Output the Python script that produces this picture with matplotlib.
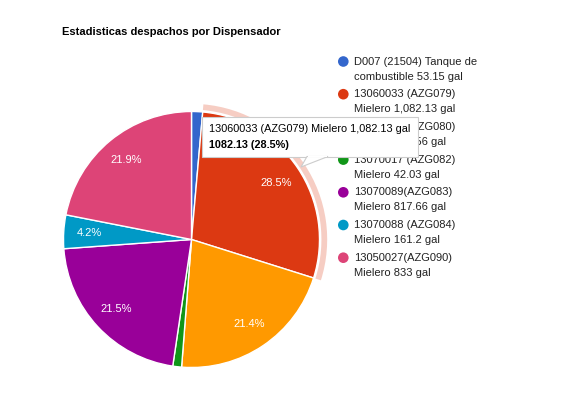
import matplotlib
matplotlib.use("Agg")
import matplotlib.pyplot as plt
from matplotlib.patches import Wedge, Circle, Polygon, Rectangle

plt.rcParams['font.family'] = ['Liberation Sans', 'DejaVu Sans']

title = "Estadisticas despachos por Dispensador"
labels_line1 = ["D007 (21504) Tanque de", "13060033 (AZG079)", "13060034 (AZG080)",
                "13070017 (AZG082)", "13070089(AZG083)", "13070088 (AZG084)", "13050027(AZG090)"]
labels_line2 = ["combustible 53.15 gal", "Mielero 1,082.13 gal", "Mielero 812.56 gal",
                "Mielero 42.03 gal", "Mielero 817.66 gal", "Mielero 161.2 gal", "Mielero 833 gal"]
values = [53.15, 1082.13, 812.56, 42.03, 817.66, 161.2, 833]
colors = ["#3366cc", "#dc3912", "#ff9900", "#109618", "#990099", "#0099c6", "#dd4477"]
highlight = 1
tooltip_line1 = "13060033 (AZG079) Mielero 1,082.13 gal"
tooltip_line2 = "1082.13 (28.5%)"

W, H = 568, 394
fig = plt.figure(figsize=(W / 100, H / 100), dpi=100)
fig.patch.set_facecolor("white")

# pie axes in pixel coordinates
cx, cy, r = 191.5, 239.5, 128.0
ext = 1.2
ax = fig.add_axes([(cx - ext * r) / W, 1 - (cy + ext * r) / H, 2 * ext * r / W, 2 * ext * r / H])

def fmt(p):
    return f"{p:.1f}%" if p >= 3 else ""

wedges, texts, autotexts = ax.pie(values, colors=colors, startangle=90, counterclock=False,
                                  radius=1.0, autopct=fmt, pctdistance=0.8,
                                  wedgeprops=dict(edgecolor="white", linewidth=1.0),
                                  textprops=dict(color="white", fontsize=8.0))
ax.set_xlim(-ext, ext)
ax.set_ylim(-ext, ext)
ax.set_aspect('equal')
ax.axis('off')

# hover ring around highlighted slice
w = wedges[highlight]
ring = Wedge((0, 0), 1.06, w.theta1, w.theta2, width=0.045, facecolor=colors[highlight],
             alpha=0.25, edgecolor="none")
ax.add_patch(ring)

# overlay axes for text/legend/tooltip
ov = fig.add_axes([0, 0, 1, 1], zorder=5)
ov.set_xlim(0, W)
ov.set_ylim(H, 0)
ov.axis('off')
ov.patch.set_alpha(0)

ov.text(62, 32, title, fontsize=8.0, fontweight='bold', ha='left', va='center', color="#000000")

y0, dy = 61.5, 32.7
for i, (l1, l2) in enumerate(zip(labels_line1, labels_line2)):
    y = y0 + i * dy
    ov.add_patch(Circle((343.3, y), 5.3, facecolor=colors[i], edgecolor="none"))
    ov.text(354.3, y, l1, fontsize=8.0, ha='left', va='center', color="#222222")
    ov.text(354.3, y + 15, l2, fontsize=8.0, ha='left', va='center', color="#222222")

# tooltip
bx0, by0, bx1, by1 = 202, 117, 418, 157
ov.add_patch(Rectangle((bx0 + 1, by0 + 1), bx1 - bx0, by1 - by0, facecolor="#000000",
                       alpha=0.12, edgecolor="none", zorder=9))
ov.add_patch(Rectangle((bx0, by0), bx1 - bx0, by1 - by0, facecolor="white",
                       edgecolor="#cccccc", linewidth=0.8, zorder=10))
tail = Polygon([(307, by1 - 0.5), (301, 167), (328, by1 - 0.5)], closed=True,
               facecolor="white", edgecolor="#cccccc", linewidth=0.8, zorder=10)
ov.add_patch(tail)
ov.add_patch(Rectangle((307.8, by1 - 1.2), 19.5, 1.6, facecolor="white", edgecolor="none", zorder=11))
ov.text(209, 129, tooltip_line1, fontsize=7.85, ha='left', va='center', color="#000000", zorder=12)
ov.text(209, 145, tooltip_line2, fontsize=7.85, fontweight='bold', ha='left', va='center',
        color="#000000", zorder=12)

fig.savefig("out.png", dpi=100, facecolor="white")
